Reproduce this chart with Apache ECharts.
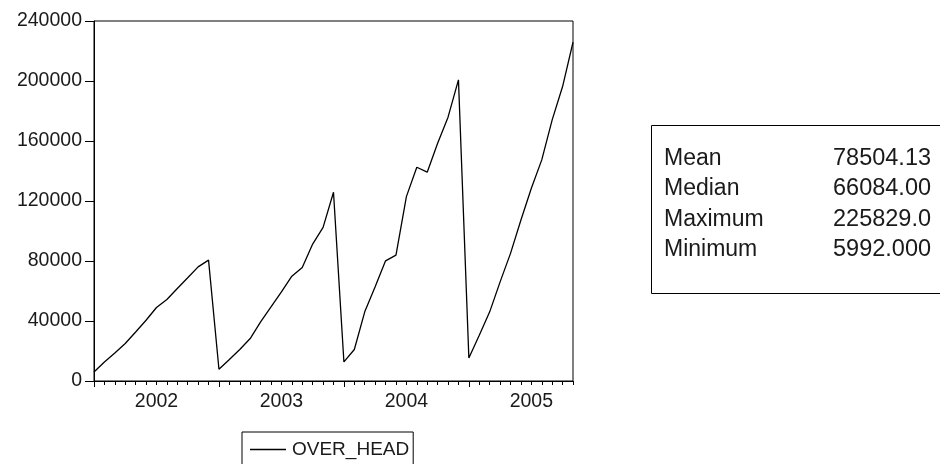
<!DOCTYPE html>
<html>
<head>
<meta charset="utf-8">
<script src="https://cdn.jsdelivr.net/npm/echarts@6/dist/echarts.min.js"></script>
<style>
html,body{margin:0;padding:0;background:#fff;}
#c{width:940px;height:464px;}
</style>
</head>
<body>
<div id="c"></div>
<script>
// ---- data ----
const years = ['2002', '2003', '2004', '2005'];
const vals2002 = [5992, 12700, 18700, 25000, 32700, 40500, 49000, 54300, 61700, 68800, 76100, 80600];
const vals2003 = [7800, 14300, 21000, 28300, 39400, 49400, 59400, 69900, 75700, 91300, 102400, 125800];
const vals2004 = [12700, 21000, 46100, 62800, 80100, 83900, 122900, 142500, 139200, 158500, 175900, 200800];
const vals2005 = [15400, 30500, 46100, 66084, 85100, 107300, 128500, 147400, 174100, 196300, 225829];
const seriesName = 'OVER_HEAD';
const yTicks = [0, 40000, 80000, 120000, 160000, 200000, 240000];
const statLabels = ['Mean', 'Median', 'Maximum', 'Minimum'];
const statValues = ['78504.13', '66084.00', '225829.0', '5992.000'];

// ---- build ----
const yearVals = [vals2002, vals2003, vals2004, vals2005];
const months = [];
const values = [];
yearVals.forEach((arr, yi) => {
  arr.forEach((v, mi) => {
    months.push(years[yi] + 'M' + String(mi + 1).padStart(2, '0'));
    values.push(v);
  });
});

const FONT = '"Liberation Sans", Arial, sans-serif';
const TXT = '#1a1a1a';

const chart = echarts.init(document.getElementById('c'), null, {renderer: 'canvas'});

const statGraphics = [];
statGraphics.push({
  type: 'rect', left: 651, top: 125, z: 10,
  shape: {width: 300, height: 168},
  style: {fill: '#fff', stroke: '#000', lineWidth: 1}
});
const rowY = [158.5, 189, 219.5, 250];
statLabels.forEach((s, i) => {
  statGraphics.push({
    type: 'text', x: 664, y: rowY[i], z: 11,
    style: {text: s, font: '23px ' + FONT, fill: TXT, textVerticalAlign: 'middle', verticalAlign: 'middle'}
  });
  statGraphics.push({
    type: 'text', x: 833, y: rowY[i], z: 11,
    style: {text: statValues[i], font: '23.5px ' + FONT, fill: TXT, textVerticalAlign: 'middle', verticalAlign: 'middle'}
  });
});

chart.setOption({
  backgroundColor: '#fff',
  animation: false,
  grid: {left: 94, top: 21, width: 479, height: 360, show: true, borderColor: '#000', borderWidth: 1, backgroundColor: 'transparent'},
  legend: {
    data: [{name: seriesName, icon: 'rect'}],
    left: 242, top: 432,
    orient: 'horizontal',
    itemWidth: 36, itemHeight: 1.3, itemGap: 6,
    padding: [8, 4, 10, 8],
    borderColor: '#000', borderWidth: 1,
    backgroundColor: '#fff',
    itemStyle: {color: '#000', borderWidth: 0},
    textStyle: {fontFamily: FONT, fontSize: 19, color: TXT, padding: [0, 0, 0, 1]}
  },
  xAxis: [
    {
      type: 'category', data: months, boundaryGap: false, position: 'bottom',
      axisLine: {show: true, lineStyle: {color: '#000', width: 1}},
      axisTick: {show: true, inside: false, length: 4, interval: 0, lineStyle: {color: '#000', width: 1}},
      axisLabel: {
        show: true, margin: 11, fontFamily: FONT, fontSize: 19.5, color: TXT,
        interval: (idx, val) => val.endsWith('M07'),
        formatter: (val) => val.slice(0, 4)
      },
      splitLine: {show: false}
    },
    {
      type: 'category', data: months, boundaryGap: false, position: 'bottom',
      axisLine: {show: false},
      axisTick: {show: true, inside: false, length: 6, interval: (idx, val) => val.endsWith('M01'), lineStyle: {color: '#000', width: 1}},
      axisLabel: {show: false},
      splitLine: {show: false}
    }
  ],
  yAxis: {
    type: 'value', min: yTicks[0], max: yTicks[yTicks.length - 1], interval: yTicks[1] - yTicks[0],
    axisLine: {show: true, lineStyle: {color: '#000', width: 1}},
    axisTick: {show: true, inside: false, length: 9, lineStyle: {color: '#000', width: 1}},
    axisLabel: {margin: 12, fontFamily: FONT, fontSize: 19.5, color: TXT, formatter: (v) => String(v)},
    splitLine: {show: false}
  },
  series: [{
    name: seriesName,
    type: 'line',
    xAxisIndex: 0,
    data: values,
    symbol: 'none', showSymbol: false,
    lineStyle: {color: '#000', width: 1.3},
    itemStyle: {color: '#000'}
  }],
  graphic: statGraphics
});
</script>
</body>
</html>
